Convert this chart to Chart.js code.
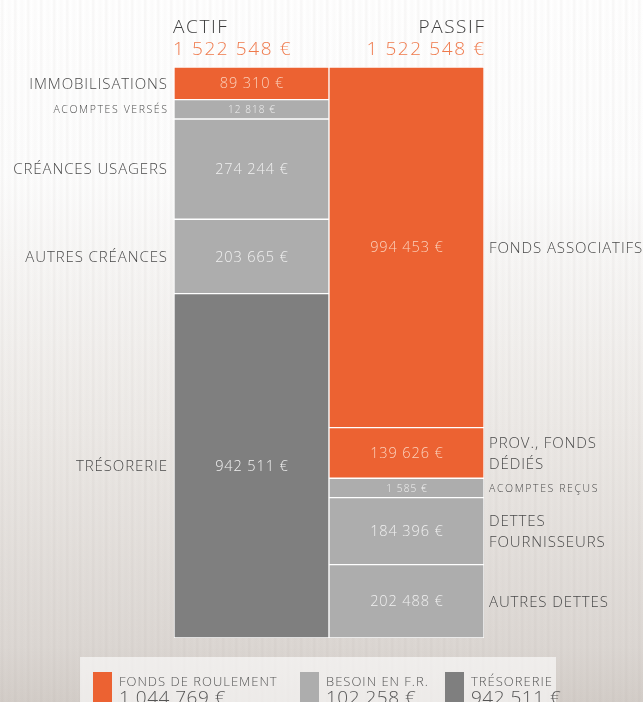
<!DOCTYPE html>
<html>
<head>
<meta charset="utf-8">
<script src="https://cdn.jsdelivr.net/npm/chart.js@4"></script>
<style>
    html, body {
        margin: 0;
        padding: 0;
    }
    body {
        width: 643px;
        height: 702px;
        overflow: hidden;
        background:
            repeating-linear-gradient(90deg, rgba(150, 140, 135, 0) 0px, rgba(150, 140, 135, 0.08) 2px, rgba(150, 140, 135, 0) 5px, rgba(150, 140, 135, 0.04) 9px, rgba(150, 140, 135, 0) 13px),
            linear-gradient(180deg, #ffffff 0%, #fdfdfd 25%, #edeae7 60%, #dcd7d3 92%, #d3cdc8 100%);
    }
    #wrap {
        position: relative;
        width: 643px;
        height: 702px;
    }
</style>
</head>
<body>
<div id="wrap"><canvas id="bilan" width="643" height="702"></canvas></div>
<script>
    const barLabels = ['ACTIF', 'PASSIF'];

    const actifItems = [['IMMOBILISATIONS'], ['ACOMPTES VERSÉS'], ['CRÉANCES USAGERS'], ['AUTRES CRÉANCES'], ['TRÉSORERIE']];
    const actifValues = [89310, 12818, 274244, 203665, 942511];
    const actifKinds = ['fr', 'bfr', 'bfr', 'bfr', 'treso'];

    const passifItems = [['FONDS ASSOCIATIFS'], ['PROV., FONDS', 'DÉDIÉS'], ['ACOMPTES REÇUS'], ['DETTES', 'FOURNISSEURS'], ['AUTRES DETTES']];
    const passifValues = [994453, 139626, 1585, 184396, 202488];
    const passifKinds = ['fr', 'fr', 'bfr', 'bfr', 'bfr'];

    const legendLabels = ['FONDS DE ROULEMENT', 'BESOIN EN F.R.', 'TRÉSORERIE'];
    const legendValues = [1044769, 102258, 942511];
    const legendKinds = ['fr', 'bfr', 'treso'];

    const kindColors = { fr: '#ec6232', bfr: '#adadad', treso: '#7f7f7f' };
    const kindText = { fr: '#fbd2bd', bfr: '#f0f0f0', treso: '#f0f0f0' };
    const FONT = '"Open Sans", Lato, sans-serif';

    function euros(v) {
        return v.toString().replace(/\B(?=(\d{3})+(?!\d))/g, ' ') + ' €';
    }

    // share of each item in its column, tiny items get a readable minimum height
    function shares(values) {
        const minShare = 3.4;
        const total = values.reduce((a, b) => a + b, 0);
        const small = values.map(v => v / total * 100 < minShare);
        const rest = values.filter((v, i) => !small[i]).reduce((a, b) => a + b, 0);
        const left = 100 - minShare * small.filter(s => s).length;
        return values.map((v, i) => small[i] ? minShare : v / rest * left);
    }

    const actifShares = shares(actifValues);
    const passifShares = shares(passifValues);

    const datasets = actifValues.map((v, i) => ({
        label: actifItems[i].join(' ') + ' / ' + passifItems[i].join(' '),
        data: [actifShares[i], passifShares[i]],
        backgroundColor: [kindColors[actifKinds[i]], kindColors[passifKinds[i]]],
        borderColor: '#ffffff',
        borderWidth: 1,
        borderSkipped: false,
        barPercentage: 1,
        categoryPercentage: 1
    }));

    function text(c, str, x, y, spacing) {
        c.letterSpacing = spacing + 'px';
        // letter spacing adds a trailing gap, shift right aligned text back
        const shift = c.textAlign === 'right' ? spacing : (c.textAlign === 'center' ? spacing / 2 : 0);
        c.fillText(str, x + shift, y);
        c.letterSpacing = '0px';
    }

    const labelPlugin = {
        id: 'bilanLabels',
        afterDatasetsDraw(chart) {
            const c = chart.ctx;
            const area = chart.chartArea;
            c.save();
            c.textBaseline = 'middle';
            chart.data.datasets.forEach((ds, i) => {
                const meta = chart.getDatasetMeta(i);
                meta.data.forEach((bar, j) => {
                    const p = bar.getProps(['x', 'y', 'base', 'width'], true);
                    const cy = (p.y + p.base) / 2;
                    const h = Math.abs(p.base - p.y);
                    const value = j === 0 ? actifValues[i] : passifValues[i];
                    const kind = j === 0 ? actifKinds[i] : passifKinds[i];
                    const small = h < 25;
                    // value inside the block
                    c.fillStyle = kindText[kind];
                    c.textAlign = 'center';
                    c.font = (small ? '300 10px ' : '300 14.5px ') + FONT;
                    text(c, euros(value), p.x, cy + 1, small ? 1.1 : 0.9);
                    // item name beside the block
                    const lines = j === 0 ? actifItems[i] : passifItems[i];
                    c.fillStyle = '#4a4a4a';
                    c.font = (small ? '300 10.5px ' : '300 15px ') + FONT;
                    c.textAlign = j === 0 ? 'right' : 'left';
                    const lx = j === 0 ? area.left - 7 : area.right + 5;
                    const lh = 21;
                    lines.forEach((line, k) => {
                        text(c, line, lx, cy + 1 + (k - (lines.length - 1) / 2) * lh, small ? 1.6 : 0.9);
                    });
                });
            });

            // column headers
            const actifTotal = actifValues.reduce((a, b) => a + b, 0);
            const passifTotal = passifValues.reduce((a, b) => a + b, 0);
            c.textBaseline = 'alphabetic';
            c.font = '300 19px ' + FONT;
            c.fillStyle = '#3c3c3c';
            c.textAlign = 'left';
            text(c, barLabels[0], area.left - 1, 33, 1.6);
            c.textAlign = 'right';
            text(c, barLabels[1], area.right, 33, 1.6);
            c.fillStyle = '#ef7a4c';
            c.textAlign = 'left';
            text(c, euros(actifTotal), area.left - 1, 55, 1.6);
            c.textAlign = 'right';
            text(c, euros(passifTotal), area.right, 55, 1.6);

            // legend strip
            c.fillStyle = 'rgba(255, 255, 255, 0.6)';
            c.fillRect(80, 657, 476, 45);
            const lx = [93, 300, 445];
            legendLabels.forEach((name, i) => {
                c.fillStyle = kindColors[legendKinds[i]];
                c.fillRect(lx[i], 672, 19, 30);
                c.fillStyle = '#555555';
                c.textAlign = 'left';
                c.font = '300 13px ' + FONT;
                text(c, name, lx[i] + 26, 686, 1);
                c.font = '300 19px ' + FONT;
                text(c, euros(legendValues[i]), lx[i] + 26, 704, 0.5);
            });
            c.restore();
        }
    };

    new Chart(document.getElementById('bilan'), {
        type: 'bar',
        data: {
            labels: barLabels,
            datasets: datasets
        },
        options: {
            responsive: false,
            animation: false,
            layout: {
                padding: { left: 174, right: 159, top: 67, bottom: 64 }
            },
            plugins: {
                legend: { display: false },
                tooltip: { enabled: false }
            },
            scales: {
                x: { display: false, stacked: true },
                y: { display: false, stacked: true, reverse: true, min: 0, max: 100 }
            }
        },
        plugins: [labelPlugin]
    });
</script>
</body>
</html>
